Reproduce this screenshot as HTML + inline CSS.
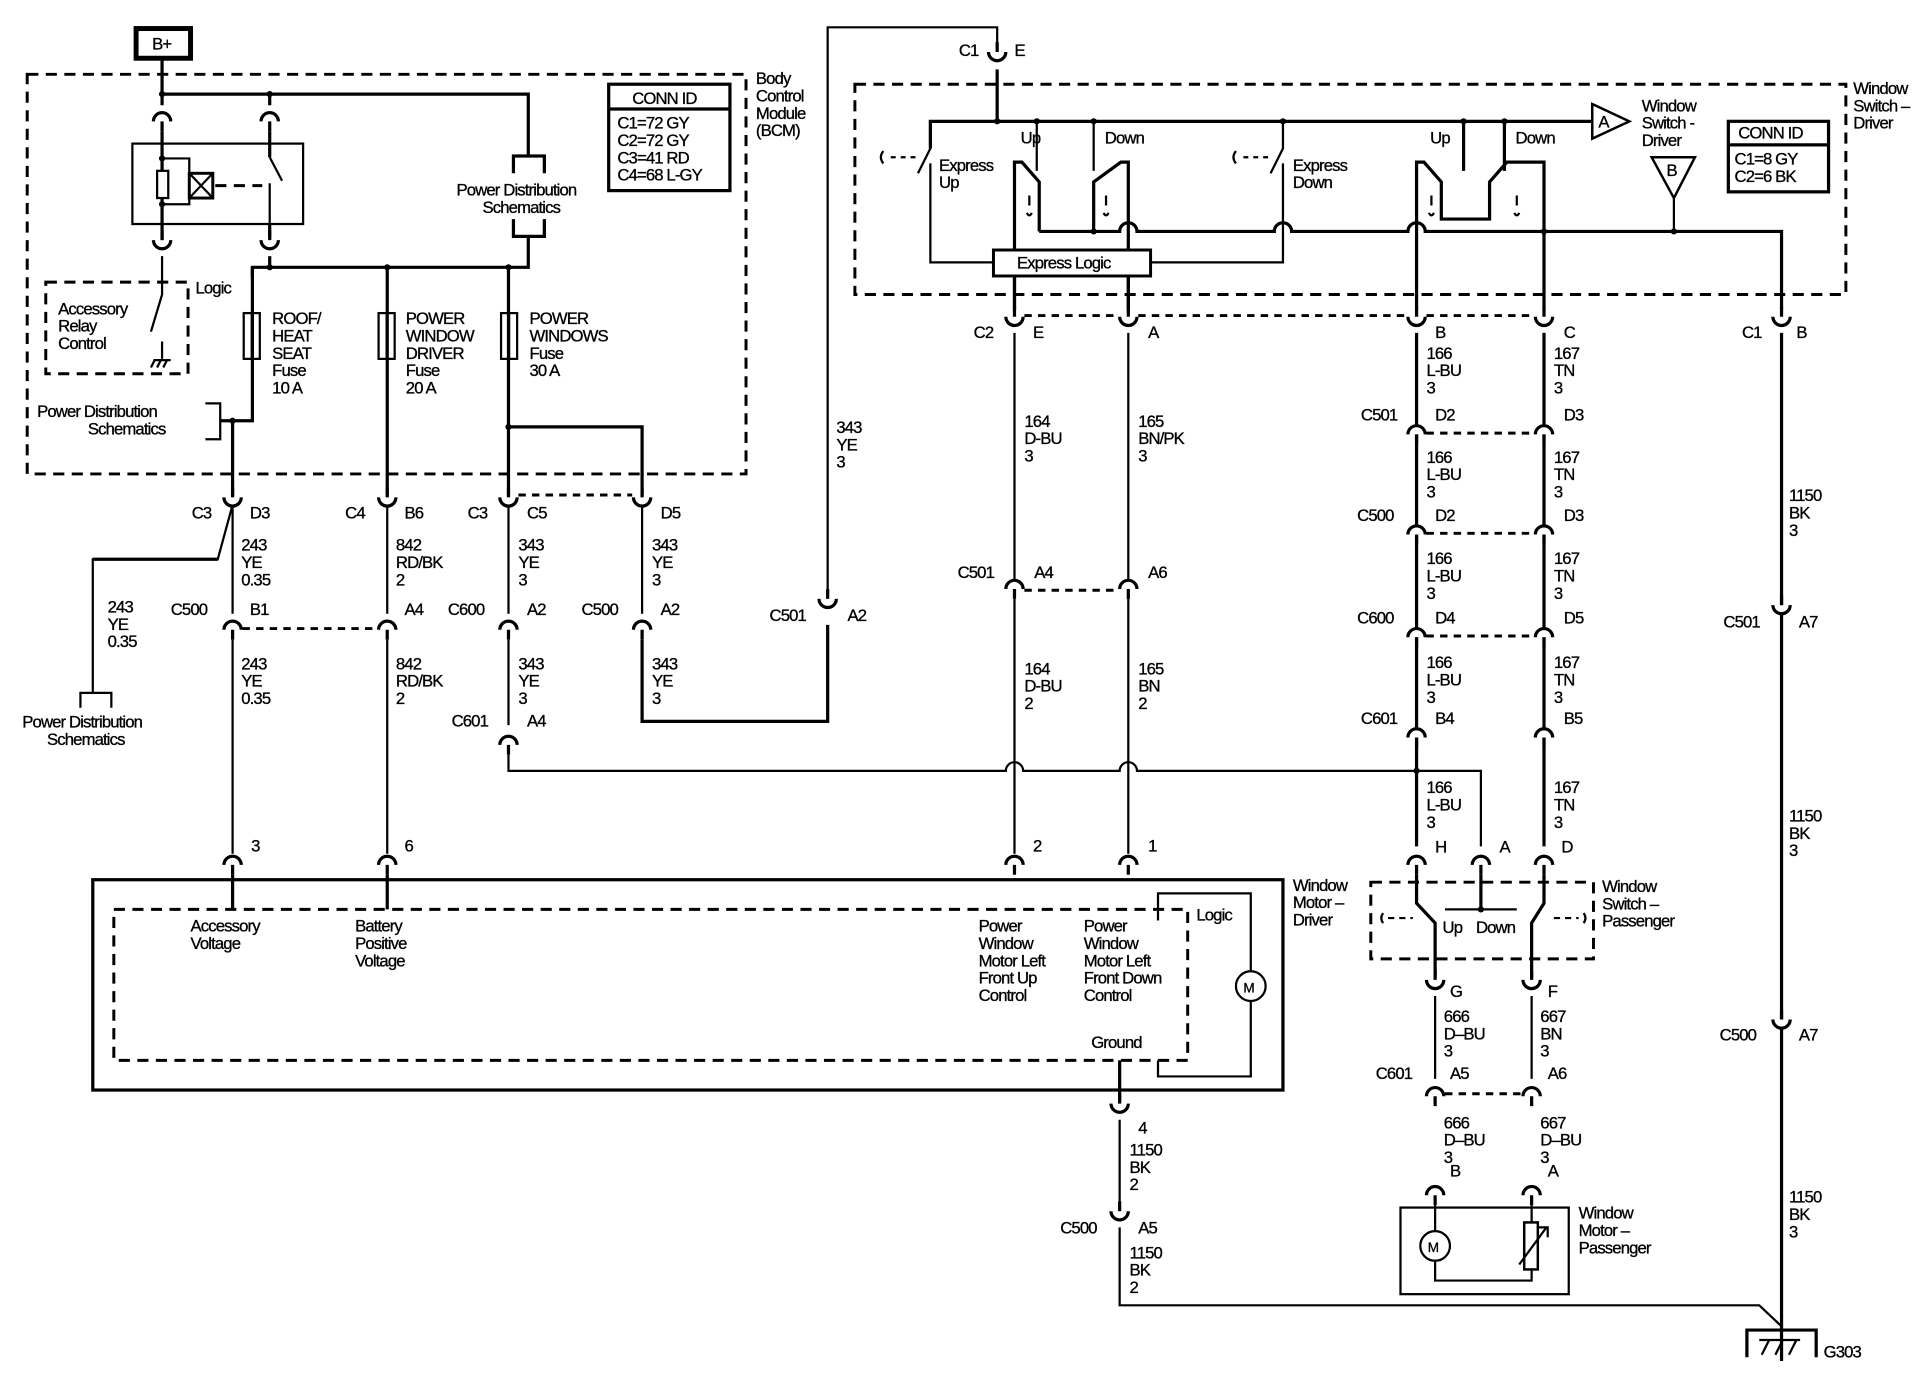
<!DOCTYPE html>
<html><head><meta charset="utf-8"><style>
html,body{margin:0;padding:0;background:#fff}
svg{display:block}
text{font-family:"Liberation Sans",sans-serif;font-size:13.5px;fill:#000;letter-spacing:-0.7px;stroke:#000;stroke-width:0.25}
.w{stroke:#000;stroke-width:2.6;fill:none}
.t{stroke:#000;stroke-width:1.8;fill:none}
.d{stroke:#000;stroke-width:2.4;fill:none;stroke-dasharray:9,6}
.dd{stroke:#000;stroke-width:2.4;fill:none;stroke-dasharray:6,5}
</style></head><body>
<svg width="1930" height="1392" viewBox="0 0 1560 1125" xmlns="http://www.w3.org/2000/svg">
<defs>
<path id="cf" d="M-7,6 A7,7 0 0 1 7,6 M0,6 V14" stroke="#000" stroke-width="2.6" fill="#fff"/>
<path id="cm" d="M-7,-6 A7,7 0 0 0 7,-6 M0,-6 V-14" stroke="#000" stroke-width="2.6" fill="#fff"/>
</defs>
<rect width="1560" height="1125" fill="#fff"/>

<rect x="110" y="23" width="44" height="24" fill="none" stroke="#000" stroke-width="4"/>
<text x="123" y="40">B+</text>

<rect x="22" y="60" width="581" height="323" class="d"/>
<text x="611" y="68">Body</text><text x="611" y="82">Control</text><text x="611" y="96">Module</text><text x="611" y="110">(BCM)</text>
<rect x="492" y="68" width="98" height="86" fill="none" stroke="#000" stroke-width="2.6"/>
<line x1="492" y1="88" x2="590" y2="88" class="w"/>
<text x="511" y="84">CONN ID</text>
<text x="499" y="104">C1=72 GY</text><text x="499" y="118">C2=72 GY</text><text x="499" y="132">C3=41 RD</text><text x="499" y="146">C4=68 L-GY</text>

<path class="w" d="M131,47 V85 M131,76 H427 V126"/>
<circle cx="131" cy="76" r="2.5"/><circle cx="218" cy="76" r="2.5"/>
<line class="w" x1="218" y1="76" x2="218" y2="85"/>
<use href="#cf" x="131" y="92"/><use href="#cf" x="218" y="92"/>
<rect x="107" y="116" width="138" height="65" fill="none" stroke="#000" stroke-width="1.8"/>
<path class="w" d="M131,106 V138 M131,160 V198 M218,106 V127"/>
<path class="t" d="M131,128 H153 V140 M153,160 V165 H131"/>
<rect x="127" y="138" width="9" height="22" class="t"/>
<rect x="153" y="140" width="19" height="20" fill="none" stroke="#000" stroke-width="2.4"/>
<path class="t" d="M153,140 L172,160 M172,140 L153,160"/>
<path class="d" d="M174,150 H212" stroke-dasharray="7,5"/>
<path class="t" d="M218,127 L228,146 M218,148 V180"/>
<path class="w" d="M218,180 V192"/>
<use href="#cm" x="131" y="200"/><use href="#cm" x="218" y="200"/>
<circle cx="131" cy="128" r="2.5"/><circle cx="131" cy="165" r="2.5"/>
<path class="w" d="M415,140 V126 H440 V140 M415,177 V191 H440 V177"/>
<text x="369" y="158">Power Distribution</text><text x="390" y="172">Schematics</text>
<path class="w" d="M427,191 V216 H204 V224"/>
<circle cx="218" cy="216" r="2.5"/><circle cx="313" cy="216" r="2.5"/><circle cx="411" cy="216" r="2.5"/>
<path class="w" d="M218,207 V216"/>
<rect x="37" y="228" width="115" height="74" class="d"/>
<text x="158" y="237">Logic</text>
<text x="47" y="254">Accessory</text><text x="47" y="268">Relay</text><text x="47" y="282">Control</text>
<path class="t" d="M131,207 V238 L122,268 M131,276 V290"/>
<path class="t" d="M124,291 H138 M125,291 l-3,6 M130,291 l-3,6 M135,291 l-3,6"/>
<path class="w" d="M204,216 V340 H178 M188,340 V400"/>
<rect x="197" y="253" width="13" height="37" class="t"/><line x1="203.5" y1="253" x2="203.5" y2="290" class="t"/>
<text x="220" y="262">ROOF/</text><text x="220" y="276">HEAT</text><text x="220" y="290">SEAT</text><text x="220" y="304">Fuse</text><text x="220" y="318">10 A</text>
<path class="t" d="M166,326 H178 V355 H166"/>
<circle cx="188" cy="340" r="2.5"/>
<text x="30" y="337">Power Distribution</text><text x="71" y="351">Schematics</text>
<path class="w" d="M313,216 V400"/>
<rect x="306" y="253" width="13" height="37" class="t"/><line x1="312.5" y1="253" x2="312.5" y2="290" class="t"/>
<text x="328" y="262">POWER</text><text x="328" y="276">WINDOW</text><text x="328" y="290">DRIVER</text><text x="328" y="304">Fuse</text><text x="328" y="318">20 A</text>
<path class="w" d="M411,216 V400 M411,345 H519 V400"/>
<circle cx="411" cy="345" r="2.5"/>
<rect x="405" y="253" width="13" height="37" class="t"/><line x1="411.5" y1="253" x2="411.5" y2="290" class="t"/>
<text x="428" y="262">POWER</text><text x="428" y="276">WINDOWS</text><text x="428" y="290">Fuse</text><text x="428" y="304">30 A</text>

<use href="#cm" x="188" y="408"/><use href="#cm" x="313" y="408"/><use href="#cm" x="411" y="408"/><use href="#cm" x="519" y="408"/>
<path class="dd" d="M419,400 H511"/>
<text x="155" y="419">C3</text><text x="202" y="419">D3</text>
<text x="279" y="419">C4</text><text x="327" y="419">B6</text>
<text x="378" y="419">C3</text><text x="426" y="419">C5</text>
<text x="534" y="419">D5</text>
<path class="t" d="M188,408 L176,452 H75 V560"/>
<path class="w" d="M176,452 H75"/>
<path class="t" d="M65,572 V560 H90 V572"/>
<text x="18" y="588">Power Distribution</text><text x="38" y="602">Schematics</text>
<text x="87" y="495">243</text><text x="87" y="509">YE</text><text x="87" y="523">0.35</text>
<path class="t" d="M188,408 V496 M313,408 V496 M411,408 V496 M519,408 V496"/>
<text x="195" y="445">243</text><text x="195" y="459">YE</text><text x="195" y="473">0.35</text>
<text x="320" y="445">842</text><text x="320" y="459">RD/BK</text><text x="320" y="473">2</text>
<text x="419" y="445">343</text><text x="419" y="459">YE</text><text x="419" y="473">3</text>
<text x="527" y="445">343</text><text x="527" y="459">YE</text><text x="527" y="473">3</text>
<use href="#cf" x="188" y="503"/><use href="#cf" x="313" y="503"/><use href="#cf" x="411" y="503"/><use href="#cf" x="519" y="503"/>
<path class="dd" d="M196,508 H305"/>
<text x="138" y="497">C500</text><text x="202" y="497">B1</text>
<text x="327" y="497">A4</text>
<text x="362" y="497">C600</text><text x="426" y="497">A2</text>
<text x="470" y="497">C500</text><text x="534" y="497">A2</text>
<text x="195" y="541">243</text><text x="195" y="555">YE</text><text x="195" y="569">0.35</text>
<text x="320" y="541">842</text><text x="320" y="555">RD/BK</text><text x="320" y="569">2</text>
<text x="419" y="541">343</text><text x="419" y="555">YE</text><text x="419" y="569">3</text>
<text x="527" y="541">343</text><text x="527" y="555">YE</text><text x="527" y="569">3</text>
<path class="t" d="M188,517 V690 M313,517 V690 M411,517 V586"/>
<path class="w" d="M519,517 V583 H669 V505"/>
<use href="#cf" x="411" y="596"/>
<text x="365" y="587">C601</text><text x="426" y="587">A4</text>
<path class="t" d="M411,610 V623 H813 A7,7 0 0 1 827,623 H905 A7,7 0 0 1 919,623 H1197 V684"/>
<use href="#cm" x="669" y="490"/>
<text x="622" y="502">C501</text><text x="685" y="502">A2</text>
<text x="676" y="350">343</text><text x="676" y="364">YE</text><text x="676" y="378">3</text>
<path class="t" d="M669,476 V22 H806 V38"/>
<use href="#cm" x="806" y="48"/>
<text x="775" y="45">C1</text><text x="820" y="45">E</text>
<path class="w" d="M806,56 V98"/>
<circle cx="806" cy="98" r="2.5"/>

<use href="#cf" x="188" y="693"/><use href="#cf" x="313" y="693"/>
<text x="203" y="688">3</text><text x="327" y="688">6</text>
<path class="w" d="M188,707 V735 M313,707 V735"/>
<rect x="75" y="711" width="962" height="170" fill="none" stroke="#000" stroke-width="2.6"/>
<rect x="92" y="735" width="868" height="122" class="d"/>
<text x="154" y="753">Accessory</text><text x="154" y="767">Voltage</text>
<text x="287" y="753">Battery</text><text x="287" y="767">Positive</text><text x="287" y="781">Voltage</text>
<text x="791" y="753">Power</text><text x="791" y="767">Window</text><text x="791" y="781">Motor Left</text><text x="791" y="795">Front Up</text><text x="791" y="809">Control</text>
<text x="876" y="753">Power</text><text x="876" y="767">Window</text><text x="876" y="781">Motor Left</text><text x="876" y="795">Front Down</text><text x="876" y="809">Control</text>
<text x="882" y="847">Ground</text>
<text x="967" y="744">Logic</text>
<path class="t" d="M936,744 V722 H1011 V785 M1011,809 V870 H936 V857"/>
<circle cx="1011" cy="797" r="12" class="t"/><text x="1005" y="802" style="font-size:11px">M</text>
<text x="1045" y="720">Window</text><text x="1045" y="734">Motor –</text><text x="1045" y="748">Driver</text>
<path class="w" d="M905,857 V890"/>
<use href="#cm" x="905" y="898"/>
<text x="920" y="916">4</text>
<text x="913" y="934">1150</text><text x="913" y="948">BK</text><text x="913" y="962">2</text>
<path class="t" d="M905,905 V978"/>
<use href="#cm" x="905" y="985"/>
<text x="857" y="997">C500</text><text x="920" y="997">A5</text>
<text x="913" y="1017">1150</text><text x="913" y="1031">BK</text><text x="913" y="1045">2</text>
<path class="t" d="M905,992 V1055 H1422 L1440,1072"/>

<rect x="691" y="68" width="801" height="170" class="d"/>
<text x="1498" y="76">Window</text><text x="1498" y="90">Switch –</text><text x="1498" y="104">Driver</text>
<rect x="1397" y="98" width="81" height="57" fill="none" stroke="#000" stroke-width="2.6"/>
<line x1="1397" y1="117" x2="1478" y2="117" class="w"/>
<text x="1405" y="112">CONN ID</text><text x="1402" y="133">C1=8 GY</text><text x="1402" y="147">C2=6 BK</text>
<path class="w" d="M752,120 V98 H1287"/>
<path d="M1287,84 L1317,98 L1287,112 Z" fill="#fff" stroke="#000" stroke-width="2"/>
<text x="1292" y="103">A</text>
<text x="1327" y="90">Window</text><text x="1327" y="104">Switch -</text><text x="1327" y="118">Driver</text>
<path d="M1335,127 L1370,127 L1353,160 Z" fill="#fff" stroke="#000" stroke-width="2"/>
<text x="1347" y="142">B</text>
<path class="t" d="M1353,160 V187"/>
<circle cx="1353" cy="187" r="2.5"/>
<circle cx="838" cy="98" r="2.5"/><circle cx="884" cy="98" r="2.5"/><circle cx="1037" cy="98" r="2.5"/><circle cx="1183" cy="98" r="2.5"/><circle cx="1216" cy="98" r="2.5"/>
<path class="t" d="M752,120 L742,140 M752,132 V212 H803"/>
<path class="t" d="M714,122 Q710,127 714,132"/>
<path class="t" d="M720,127 H740" stroke-dasharray="4,4"/>
<text x="759" y="138">Express</text><text x="759" y="152">Up</text>
<path class="t" d="M1037,98 V120 L1027,140 M1037,132 V212 H930"/>
<path class="t" d="M999,122 Q995,127 999,132"/>
<path class="t" d="M1005,127 H1025" stroke-dasharray="4,4"/>
<text x="1045" y="138">Express</text><text x="1045" y="152">Down</text>
<text x="825" y="116">Up</text><text x="893" y="116">Down</text>
<text x="1156" y="116">Up</text><text x="1225" y="116">Down</text>
<path class="t" d="M838,98 V138 M884,98 V138"/>
<path class="w" d="M820,250 V131 H826 L840,147 V187 M912,250 V131 H906 L884,147 V187"/>
<path class="t" d="M832,158 v8 M830,172 q2,4 4,0 M894,158 v8 M892,172 q2,4 4,0"/>
<path class="w" d="M1145,250 V131 H1151 L1165,147 V177 H1204 V147 L1218,131 H1248 V250 M1183,98 V138 M1216,98 V138"/>
<path class="t" d="M1157,158 v8 M1155,172 q2,4 4,0 M1226,158 v8 M1224,172 q2,4 4,0"/>
<path class="w" d="M840,187 H905 A7,7 0 0 1 919,187 H1030 A7,7 0 0 1 1044,187 H1138 A7,7 0 0 1 1152,187 H1440 V250"/>
<circle cx="884" cy="187" r="2.5"/><circle cx="1248" cy="187" r="2.5"/>
<rect x="803" y="202" width="127" height="21" fill="#fff" stroke="#000" stroke-width="2.4"/>
<text x="822" y="217">Express Logic</text>
<path class="w" d="M820,223 V250 M912,223 V250"/>

<use href="#cm" x="820" y="262"/><use href="#cm" x="912" y="262"/><use href="#cm" x="1145" y="262"/><use href="#cm" x="1248" y="262"/><use href="#cm" x="1440" y="262"/>
<path class="dd" d="M828,255 H904 M920,255 H1137 M1153,255 H1240"/>
<text x="787" y="273">C2</text><text x="835" y="273">E</text><text x="928" y="273">A</text>
<text x="1160" y="273">B</text><text x="1264" y="273">C</text>
<text x="1408" y="273">C1</text><text x="1452" y="273">B</text>
<path class="t" d="M820,269 V690 M912,269 V690"/>
<path class="w" d="M1145,269 V684 M1248,269 V684 M1440,269 V1100"/>
<text x="828" y="345">164</text><text x="828" y="359">D-BU</text><text x="828" y="373">3</text>
<text x="920" y="345">165</text><text x="920" y="359">BN/PK</text><text x="920" y="373">3</text>
<use href="#cf" x="820" y="470"/><use href="#cf" x="912" y="470"/>
<path class="dd" d="M828,477 H904"/>
<text x="774" y="467">C501</text><text x="836" y="467">A4</text><text x="928" y="467">A6</text>
<text x="828" y="545">164</text><text x="828" y="559">D-BU</text><text x="828" y="573">2</text>
<text x="920" y="545">165</text><text x="920" y="559">BN</text><text x="920" y="573">2</text>
<use href="#cf" x="820" y="693"/><use href="#cf" x="912" y="693"/>
<text x="835" y="688">2</text><text x="928" y="688">1</text>

<text x="1153" y="290">166</text><text x="1153" y="304">L-BU</text><text x="1153" y="318">3</text>
<text x="1256" y="290">167</text><text x="1256" y="304">TN</text><text x="1256" y="318">3</text>
<use href="#cf" x="1145" y="345"/><use href="#cf" x="1248" y="345"/>
<path class="dd" d="M1153,350 H1240"/>
<text x="1100" y="340">C501</text><text x="1160" y="340">D2</text><text x="1264" y="340">D3</text>
<text x="1153" y="374">166</text><text x="1153" y="388">L-BU</text><text x="1153" y="402">3</text>
<text x="1256" y="374">167</text><text x="1256" y="388">TN</text><text x="1256" y="402">3</text>
<use href="#cf" x="1145" y="426"/><use href="#cf" x="1248" y="426"/>
<path class="dd" d="M1153,431 H1240"/>
<text x="1097" y="421">C500</text><text x="1160" y="421">D2</text><text x="1264" y="421">D3</text>
<text x="1153" y="456">166</text><text x="1153" y="470">L-BU</text><text x="1153" y="484">3</text>
<text x="1256" y="456">167</text><text x="1256" y="470">TN</text><text x="1256" y="484">3</text>
<use href="#cf" x="1145" y="509"/><use href="#cf" x="1248" y="509"/>
<path class="dd" d="M1153,514 H1240"/>
<text x="1097" y="504">C600</text><text x="1160" y="504">D4</text><text x="1264" y="504">D5</text>
<text x="1153" y="540">166</text><text x="1153" y="554">L-BU</text><text x="1153" y="568">3</text>
<text x="1256" y="540">167</text><text x="1256" y="554">TN</text><text x="1256" y="568">3</text>
<use href="#cf" x="1145" y="590"/><use href="#cf" x="1248" y="590"/>
<text x="1100" y="585">C601</text><text x="1160" y="585">B4</text><text x="1264" y="585">B5</text>
<text x="1153" y="641">166</text><text x="1153" y="655">L-BU</text><text x="1153" y="669">3</text>
<text x="1256" y="641">167</text><text x="1256" y="655">TN</text><text x="1256" y="669">3</text>
<circle cx="1145" cy="623" r="2.5"/>
<use href="#cf" x="1145" y="693"/><use href="#cf" x="1197" y="693"/><use href="#cf" x="1248" y="693"/>
<text x="1160" y="689">H</text><text x="1212" y="689">A</text><text x="1262" y="689">D</text>

<rect x="1108" y="713" width="180" height="62" class="d"/>
<text x="1295" y="721">Window</text><text x="1295" y="735">Switch –</text><text x="1295" y="749">Passenger</text>
<path class="w" d="M1145,707 V730 L1160,746 V790 M1248,707 V730 L1238,746 V790 M1197,707 V735"/>
<path class="t" d="M1168,735 H1226"/><circle cx="1197" cy="735" r="2.5"/>
<path class="t" d="M1118,738 q-3,4 0,8 M1280,738 q3,4 0,8"/>
<path class="t" d="M1122,742 H1142 M1256,742 H1276" stroke-dasharray="5,4"/>
<text x="1166" y="754">Up</text><text x="1193" y="754">Down</text>
<use href="#cm" x="1160" y="798"/><use href="#cm" x="1238" y="798"/>
<text x="1172" y="806">G</text><text x="1251" y="806">F</text>
<text x="1167" y="826">666</text><text x="1167" y="840">D–BU</text><text x="1167" y="854">3</text>
<text x="1245" y="826">667</text><text x="1245" y="840">BN</text><text x="1245" y="854">3</text>
<path class="t" d="M1160,805 V872 M1238,805 V872"/>
<use href="#cf" x="1160" y="880"/><use href="#cf" x="1238" y="880"/>
<path class="dd" d="M1168,884 H1230"/>
<text x="1112" y="872">C601</text><text x="1172" y="872">A5</text><text x="1251" y="872">A6</text>
<text x="1167" y="912">666</text><text x="1167" y="926">D–BU</text><text x="1167" y="940">3</text>
<text x="1245" y="912">667</text><text x="1245" y="926">D–BU</text><text x="1245" y="940">3</text>
<use href="#cf" x="1160" y="960"/><use href="#cf" x="1238" y="960"/>
<text x="1172" y="951">B</text><text x="1251" y="951">A</text>
<path class="t" d="M1160,974 V995 M1160,1019 V1035 H1238 V974"/>
<rect x="1132" y="976" width="136" height="70" class="t"/>
<circle cx="1160" cy="1007" r="12" class="t"/><text x="1154" y="1012" style="font-size:11px">M</text>
<rect x="1232" y="988" width="11" height="38" fill="#fff" stroke="#000" stroke-width="2"/>
<path class="t" d="M1228,1022 L1250,992 M1243,992 h8 v8"/>
<text x="1276" y="985">Window</text><text x="1276" y="999">Motor –</text><text x="1276" y="1013">Passenger</text>

<use href="#cm" x="1440" y="495"/><use href="#cm" x="1440" y="830"/>
<text x="1393" y="507">C501</text><text x="1454" y="507">A7</text>
<text x="1390" y="841">C500</text><text x="1454" y="841">A7</text>
<text x="1446" y="405">1150</text><text x="1446" y="419">BK</text><text x="1446" y="433">3</text>
<text x="1446" y="664">1150</text><text x="1446" y="678">BK</text><text x="1446" y="692">3</text>
<text x="1446" y="972">1150</text><text x="1446" y="986">BK</text><text x="1446" y="1000">3</text>
<path class="w" d="M1412,1097 V1075 H1468 V1097"/>
<path class="t" d="M1424,1095 l6,-12 M1435,1095 l6,-12 M1446,1095 l6,-12 M1422,1083 H1455"/>
<text x="1474" y="1097">G303</text>
</svg>
</body></html>
